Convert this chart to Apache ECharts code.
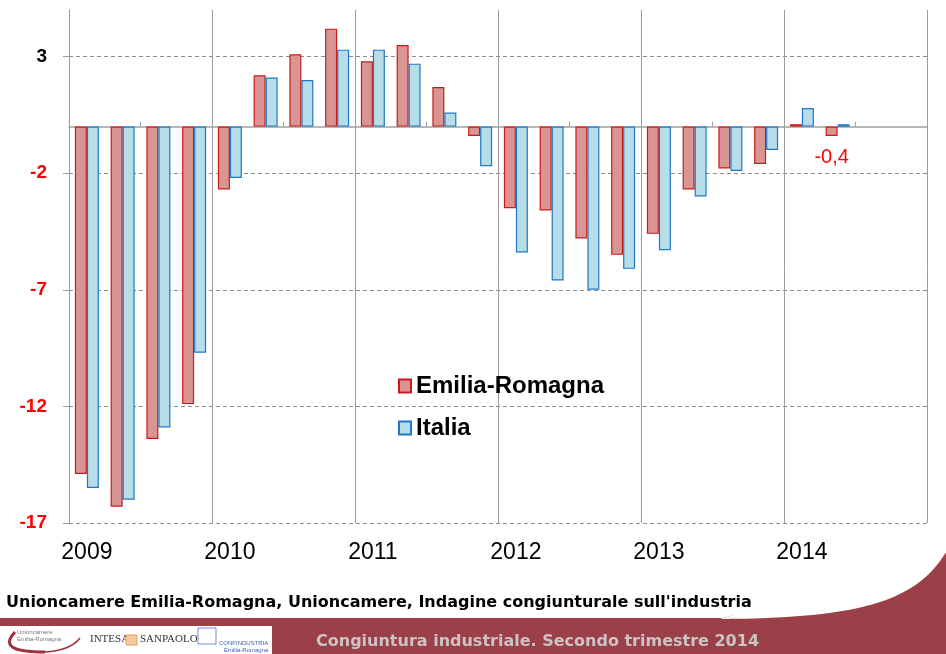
<!DOCTYPE html>
<html>
<head>
<meta charset="utf-8">
<title>Congiuntura industriale</title>
<script src="https://cdn.jsdelivr.net/npm/echarts@6/dist/echarts.min.js"></script>
<style>
  html, body { margin: 0; padding: 0; background: #fff; }
  #main { width: 946px; height: 654px; }
</style>
</head>
<body>
<div id="main"></div>
<script>
// quarters 2009 I .. 2014 IV (last two quarters still empty)
const quarters = [
  '2009 I', '2009 II', '2009 III', '2009 IV',
  '2010 I', '2010 II', '2010 III', '2010 IV',
  '2011 I', '2011 II', '2011 III', '2011 IV',
  '2012 I', '2012 II', '2012 III', '2012 IV',
  '2013 I', '2013 II', '2013 III', '2013 IV',
  '2014 I', '2014 II', '2014 III', '2014 IV'
]
const emiliaRomagna = [
  -14.9, -16.3, -13.4, -11.9,
  -2.7, 2.2, 3.1, 4.2,
  2.8, 3.5, 1.7, -0.4,
  -3.5, -3.6, -4.8, -5.5,
  -4.6, -2.7, -1.8, -1.6,
  0.1, -0.4, null, null
]
const italia = [
  -15.5, -16.0, -12.9, -9.7,
  -2.2, 2.1, 2.0, 3.3,
  3.3, 2.7, 0.6, -1.7,
  -5.4, -6.6, -7.0, -6.1,
  -5.3, -3.0, -1.9, -1.0,
  0.8, 0.1, null, null
]
const yTicks = [-17, -12, -7, -2, 3]
const labelledIndex = 21 // ER 2014 II gets a value label

const red = '#9b3f48'
const chart = echarts.init(document.getElementById('main'))

const option = {
  animation: false,
  backgroundColor: '#fff',
  grid: { left: 69, right: 19, top: 10, bottom: 131 },
  legend: {
    orient: 'vertical',
    left: 393,
    top: 369,
    itemWidth: 12,
    itemHeight: 13,
    itemGap: 18,
    icon: 'rect',
    textStyle: { fontFamily: 'Liberation Sans', fontWeight: 'bold', fontSize: 24, color: '#000' },
    data: ['Emilia-Romagna', 'Italia']
  },
  xAxis: [
    {
      // zero line with small ticks
      type: 'category',
      data: quarters,
      position: 'top',
      axisLine: { onZero: true, lineStyle: { color: '#a0a0a0', width: 1.5 } },
      axisTick: { show: true, interval: 1, length: 5, lineStyle: { color: '#a0a0a0' } },
      axisLabel: { show: false },
      splitLine: { show: false }
    },
    {
      // years at the bottom + vertical year lines
      type: 'category',
      data: quarters,
      position: 'bottom',
      axisLine: { show: false, onZero: false },
      axisTick: { show: false },
      axisLabel: {
        interval: function (i) { return i % 4 === 0 },
        formatter: function (v) { return v.split(' ')[0] },
        fontFamily: 'Liberation Sans',
        fontSize: 23,
        color: '#000',
        margin: 18
      },
      splitLine: {
        show: true,
        interval: function (i) { return i % 4 === 0 },
        lineStyle: { color: '#9a9a9a', width: 1 }
      }
    }
  ],
  yAxis: {
    type: 'value',
    min: -17,
    max: 5,
    axisLine: { show: true, lineStyle: { color: '#9a9a9a' } },
    axisTick: { show: true, customValues: yTicks, length: 6, lineStyle: { color: '#9a9a9a' } },
    axisLabel: {
      customValues: yTicks,
      fontFamily: 'Liberation Sans',
      fontWeight: 'bold',
      fontSize: 19,
      margin: 22,
      color: function (v) { return Number(v) === 3 ? '#000' : '#ff0000' }
    },
    splitLine: {
      show: true,
      lineStyle: { color: '#8c8c8c', type: [4, 3], width: 1 }
    }
  },
  series: [
    {
      name: 'Emilia-Romagna',
      type: 'bar',
      xAxisIndex: 0,
      barWidth: 12,
      barGap: '0%',
      itemStyle: { color: '#d99594', borderColor: '#cc1a1a', borderWidth: 1.2 },
      data: emiliaRomagna.map(function (v, i) {
        if (i !== labelledIndex) return v
        return {
          value: v,
          label: {
            show: true,
            position: 'bottom',
            distance: 12,
            fontFamily: 'Liberation Sans',
            fontSize: 20,
            color: '#ff0000',
            formatter: function (p) { return String(p.value).replace('.', ',') }
          }
        }
      })
    },
    {
      name: 'Italia',
      type: 'bar',
      xAxisIndex: 0,
      barWidth: 12,
      itemStyle: { color: '#b7dde8', borderColor: '#1f78c4', borderWidth: 1.2 },
      data: italia
    }
  ],
  graphic: [
    {
      type: 'text',
      left: 6,
      top: 595,
      style: {
        text: "Unioncamere Emilia-Romagna, Unioncamere, Indagine congiunturale sull'industria",
        font: 'bold 16px "DejaVu Sans"',
        fill: '#000'
      }
    },
    {
      type: 'rect',
      shape: { x: 0, y: 618, width: 946, height: 36 },
      style: { fill: red }
    },
    // curved top edge of the band on the right
    {
      type: 'polygon',
      shape: { points: [[720, 619], [946, 552], [946, 619]] },
      style: { fill: red }
    },
    {
      type: 'bezierCurve',
      shape: { x1: 720, y1: 619, cpx1: 850, cpy1: 618, cpx2: 915, cpy2: 605, x2: 946, y2: 552 },
      style: { fill: '#fff', stroke: null }
    },
    {
      type: 'line',
      shape: { x1: 732, y1: 615.4, x2: 946, y2: 552 },
      style: { stroke: '#fff', lineWidth: 2 }
    },
    {
      type: 'rect',
      shape: { x: 0, y: 626, width: 272, height: 28 },
      style: { fill: '#fff' }
    },
    {
      type: 'bezierCurve',
      shape: { x1: 15, y1: 632, cpx1: 2, cpy1: 646, cpx2: 12, cpy2: 652, x2: 45, y2: 652 },
      style: { fill: null, stroke: '#a0303a', lineWidth: 3 }
    },
    {
      type: 'bezierCurve',
      shape: { x1: 45, y1: 652, cpx1: 62, cpy1: 651, cpx2: 74, cpy2: 646, x2: 80, y2: 638 },
      style: { fill: null, stroke: '#a0303a', lineWidth: 1.5 }
    },
    {
      type: 'text',
      left: 17,
      top: 629,
      style: { text: 'Unioncamere\nEmilia-Romagna', font: '6px "Liberation Sans"', fill: '#777', lineHeight: 7 }
    },
    {
      type: 'text',
      left: 90,
      top: 634,
      style: { text: 'INTESA', font: '11px "Liberation Serif"', fill: '#333' }
    },
    {
      type: 'rect',
      shape: { x: 126, y: 635, width: 11, height: 10 },
      style: { fill: '#f4c9a0', stroke: '#e8a060' }
    },
    {
      type: 'text',
      left: 140,
      top: 634,
      style: { text: 'SANPAOLO', font: '11px "Liberation Serif"', fill: '#333' }
    },
    {
      type: 'rect',
      shape: { x: 198, y: 628, width: 18, height: 16 },
      style: { fill: '#fff', stroke: '#6e8fd0', lineWidth: 1 }
    },
    {
      type: 'text',
      left: 219,
      top: 640,
      style: { text: 'CONFINDUSTRIA\n   Emilia-Romagna', font: '6px "Liberation Sans"', fill: '#3b5fb0', lineHeight: 7 }
    },
    {
      type: 'text',
      left: 316,
      top: 634,
      style: {
        text: 'Congiuntura industriale. Secondo trimestre 2014',
        font: 'bold 16px "DejaVu Sans"',
        fill: '#cbc3c4'
      }
    }
  ]
}

chart.setOption(option)
</script>
</body>
</html>
